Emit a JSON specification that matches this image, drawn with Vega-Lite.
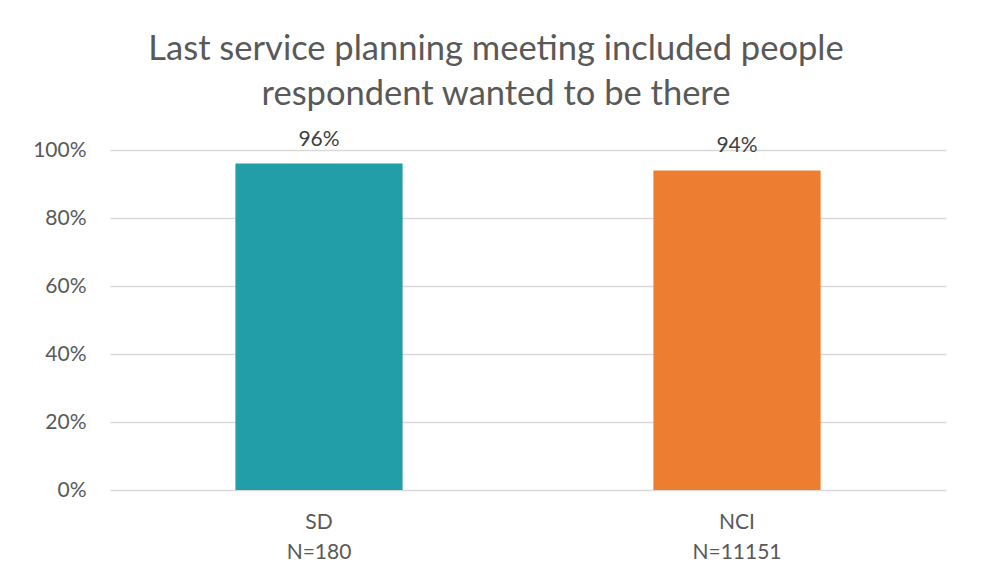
{
  "$schema": "https://vega.github.io/schema/vega-lite/v6.json",
  "width": 836,
  "height": 340,
  "autosize": {"type": "none"},
  "padding": {"left": 110, "top": 150, "right": 36, "bottom": 91},
  "background": "white",
  "title": {
    "text": ["Last service planning meeting included people", "respondent wanted to be there"],
    "font": "Lato",
    "fontSize": 34.5,
    "fontWeight": "normal",
    "color": "#595959",
    "anchor": "middle",
    "frame": "group",
    "dx": -32,
    "lineHeight": 45,
    "baseline": "alphabetic",
    "offset": -11
  },
  "data": {
    "values": [
      {"group": "SD|N=180", "value": 0.96, "series": "SD"},
      {"group": "NCI|N=11151", "value": 0.94, "series": "NCI"}
    ]
  },
  "encoding": {
    "x": {
      "field": "group",
      "type": "nominal",
      "sort": null,
      "scale": {"paddingInner": 0.6, "paddingOuter": 0.3},
      "axis": {
        "title": null,
        "domain": false,
        "ticks": false,
        "labelAngle": 0,
        "labelExpr": "split(datum.label, '|')",
        "labelFont": "Lato",
        "labelFontSize": 21,
        "labelColor": "#595959",
        "labelLineHeight": 30,
        "labelPadding": 21
      }
    },
    "y": {
      "field": "value",
      "type": "quantitative",
      "scale": {"domain": [0, 1]},
      "axis": {
        "title": null,
        "domain": false,
        "ticks": false,
        "values": [0, 0.2, 0.4, 0.6, 0.8, 1],
        "format": ".0%",
        "labelFont": "Lato",
        "labelFontSize": 21,
        "labelColor": "#595959",
        "labelPadding": 24,
        "gridColor": "#d9d9d9",
        "gridWidth": 1.5
      }
    }
  },
  "layer": [
    {
      "mark": {"type": "bar"},
      "encoding": {
        "color": {
          "field": "series",
          "type": "nominal",
          "scale": {"domain": ["SD", "NCI"], "range": ["#219EA7", "#ED7D31"]},
          "legend": null
        }
      }
    },
    {
      "mark": {"type": "text", "baseline": "alphabetic", "dy": -18, "font": "Lato", "fontSize": 21, "color": "#404040"},
      "encoding": {
        "text": {"field": "value", "type": "quantitative", "format": ".0%"}
      }
    }
  ],
  "config": {
    "view": {"stroke": null}
  }
}
